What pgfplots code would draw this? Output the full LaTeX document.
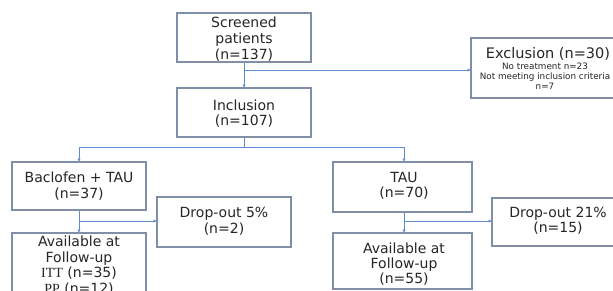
\documentclass[border=0pt]{standalone}
\usepackage{pgfplots}
\pgfplotsset{compat=1.18}
\usepackage{fontspec}
\setmainfont{DejaVu Sans}
\newfontfamily\serifit{Liberation Serif}
\usetikzlibrary{arrows.meta}
\definecolor{boxc}{RGB}{128,142,168}
\definecolor{linec}{RGB}{96,140,205}
\begin{document}
\begin{tikzpicture}
\path[use as bounding box,clip] (0,0) rectangle (613pt,290pt);
\begin{axis}[at={(0pt,0pt)},anchor=south west,width=613pt,height=290pt,scale only axis,
  hide axis,xmin=0,xmax=613,ymin=0,ymax=290,y dir=reverse,clip=false,no markers]
% connectors
\addplot[linec,line width=0.9pt,-{Latex[length=3.5pt,width=3.5pt]}] coordinates {(244,62)(244,88)};
\addplot[linec,line width=0.9pt,-{Latex[length=3.5pt,width=3.5pt]}] coordinates {(244,70)(471,70)};
\addplot[linec,line width=0.9pt] coordinates {(244,137)(244,147)};
\addplot[linec,line width=0.9pt] coordinates {(79,147)(404,147)};
\addplot[linec,line width=0.9pt,-{Latex[length=3.5pt,width=3.5pt]}] coordinates {(79,147)(79,162)};
\addplot[linec,line width=0.9pt,-{Latex[length=3.5pt,width=3.5pt]}] coordinates {(404,147)(404,162)};
\addplot[linec,line width=0.9pt,-{Latex[length=3.5pt,width=3.5pt]}] coordinates {(79,210)(79,233)};
\addplot[linec,line width=0.9pt,-{Latex[length=3.5pt,width=3.5pt]}] coordinates {(79,221)(157,221)};
\addplot[linec,line width=0.9pt,-{Latex[length=3.5pt,width=3.5pt]}] coordinates {(404,212)(404,233)};
\addplot[linec,line width=0.9pt,-{Latex[length=3.5pt,width=3.5pt]}] coordinates {(404,221)(492,221)};
% boxes
\addplot[boxc,line width=1.1pt,fill=white] coordinates {(177,13)(311,13)(311,62)(177,62)} -- cycle;
\addplot[boxc,line width=1.1pt,fill=white] coordinates {(177,88)(311,88)(311,137)(177,137)} -- cycle;
\addplot[boxc,line width=1.1pt,fill=white] coordinates {(471,38)(625,38)(625,98)(471,98)} -- cycle;
\addplot[boxc,line width=1.1pt,fill=white] coordinates {(12,162)(146,162)(146,210)(12,210)} -- cycle;
\addplot[boxc,line width=1.1pt,fill=white] coordinates {(157,197)(291,197)(291,247)(157,247)} -- cycle;
\addplot[boxc,line width=1.1pt,fill=white] coordinates {(12,233)(146,233)(146,305)(12,305)} -- cycle;
\addplot[boxc,line width=1.1pt,fill=white] coordinates {(333,162)(472,162)(472,212)(333,212)} -- cycle;
\addplot[boxc,line width=1.1pt,fill=white] coordinates {(492,198)(624,198)(624,246)(492,246)} -- cycle;
\addplot[boxc,line width=1.1pt,fill=white] coordinates {(333,233)(472,233)(472,289)(333,289)} -- cycle;
% texts
\tikzset{txt/.style={align=center,inner sep=0pt,text=black!85,font=\fontsize{14}{16}\selectfont}}
\node[txt] at (axis cs:244,39) {Screened\\patients\\(n=137)};
\node[txt,font=\fontsize{14}{15}\selectfont] at (axis cs:244,113.5) {Inclusion\\(n=107)};
\node[txt,font=\fontsize{14.5}{16}\selectfont] at (axis cs:548,54) {Exclusion (n=30)};
\node[txt,font=\fontsize{8.8}{10}\selectfont] at (axis cs:545,76) {No treatment n=23\\Not meeting inclusion criteria\\n=7};
\node[txt] at (axis cs:79,186) {Baclofen + TAU\\(n=37)};
\node[txt] at (axis cs:224,221.5) {Drop-out 5\%\\(n=2)};
\node[txt,font=\fontsize{14}{15.7}\selectfont] at (axis cs:79,265.5) {Available at\\Follow-up\\{\serifit ITT} (n=35)\\{\serifit PP} (n=12)};
\node[txt,font=\fontsize{14}{15}\selectfont] at (axis cs:404,185.5) {TAU\\(n=70)};
\node[txt,font=\fontsize{14}{15}\selectfont] at (axis cs:558,221) {Drop-out 21\%\\(n=15)};
\node[txt,font=\fontsize{14}{15}\selectfont] at (axis cs:404,264) {Available at\\Follow-up\\(n=55)};
\end{axis}
\end{tikzpicture}
\end{document}
